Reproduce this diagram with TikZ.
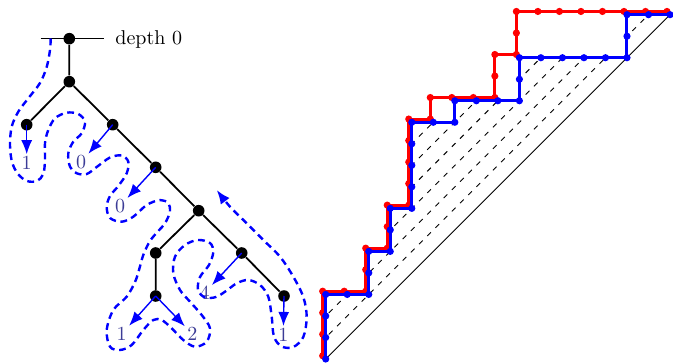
\documentclass[tikz,border=0pt]{standalone}
\usetikzlibrary{arrows.meta}
\definecolor{labcol}{RGB}{60,60,150}
\begin{document}
\begin{tikzpicture}[x=0.5pt,y=-0.5pt,
  treenode/.style={circle,fill=black,inner sep=0pt,minimum size=5.8pt},
  treeedge/.style={line width=0.9pt},
  leaflab/.style={text=labcol,inner sep=1pt},
  leafarrow/.style={blue,line width=0.7pt,-{Latex[length=7pt,width=5.5pt]}},
  contour/.style={blue,line width=1.2pt,dash pattern=on 3.4pt off 2.3pt,-{Latex[length=7pt,width=5.5pt]}},
  redpath/.style={red,line width=1.5pt,line join=round},
  bluepath/.style={blue,line width=1.5pt,line join=round},
  latdot/.style={radius=1.8pt}]
\useasboundingbox (0,0) rectangle (673,363);
% ---------------- tree ----------------
\coordinate (dl) at (40.7,38.7);
\coordinate (dr) at (104.3,38.7);
\draw[line width=0.5pt] (dl) -- (dr);
\node[anchor=base west,inner sep=0pt] (dtext) at (115,45) {depth 0};
\node[treenode] (r) at (69.3,38.7) {};
\node[treenode] (a) at (69.3,81.7) {};
\node[treenode] (l1) at (26.7,124.7) {};
\node[treenode] (b) at (112.7,124.7) {};
\node[treenode] (c) at (155.7,167.3) {};
\node[treenode] (d) at (198.7,210.7) {};
\node[treenode] (e) at (155.7,253) {};
\node[treenode] (f) at (241.7,253) {};
\node[treenode] (g) at (155.7,296) {};
\node[treenode] (h) at (284,296) {};
\draw[treeedge] (r) -- (a) (a) -- (l1) (a) -- (b) (b) -- (c) (c) -- (d)
  (d) -- (e) (d) -- (f) (e) -- (g) (f) -- (h);
\node[leaflab] (t1) at (26.7,163.3) {1};
\node[leaflab] (t2) at (81,162.5) {0};
\node[leaflab] (t3) at (120,206) {0};
\node[leaflab] (t4) at (121.7,334) {1};
\node[leaflab] (t5) at (192.3,334) {2};
\node[leaflab] (t6) at (204.5,293) {4};
\node[leaflab] (t7) at (283.3,335) {1};
\draw[leafarrow] (l1.center) -- (t1);
\draw[leafarrow] (b.center) -- (t2);
\draw[leafarrow] (c.center) -- (t3);
\draw[leafarrow] (g.center) -- (t4);
\draw[leafarrow] (g.center) -- (t5);
\draw[leafarrow] (f.center) -- (t6);
\draw[leafarrow] (h.center) -- (t7);
\draw[contour] plot[smooth,tension=0.55] coordinates {
 (50.7,38.5) (50,50) (46.7,67) (40,83) (28.3,98.3) (18.3,111.7) (11.7,126.7)
 (10,145) (12,162) (18,174) (27,181) (37,181) (43.3,174) (45,160) (45,143)
 (48.3,130) (55,118.3) (66.7,112.7) (78.3,114) (85,121.7) (81.7,133.3)
 (73.3,141.7) (68.3,153.3) (70,166.7) (76.7,173.3) (86.7,174) (96.7,167)
 (110,157.5) (121.7,155.5) (128.3,161.7) (126.7,173.3) (118.3,186) (110,196)
 (106.7,207) (110,218) (121.7,221.7) (133.3,216.7) (146.7,205) (160,200)
 (168.3,203.3) (170,211.7) (165,223.3) (158.3,231) (150,241) (143.3,255)
 (139,270) (135,282) (126.7,296.7) (113.3,310) (106.7,330) (110,346.7)
 (120,350) (131.7,345) (143.3,330) (153.3,320) (161.7,320) (171.7,328.3)
 (183.3,340) (195,346.7) (206.7,341.7) (210,328.3) (201.7,315) (190,301.7)
 (180,290) (173.3,273.3) (175,256.7) (185,245) (198,240) (210,243)
 (213.3,252) (209,265) (200,277) (198,290) (205,297.5) (216,297) (226,291)
 (236.7,283.3) (248.3,280) (260,285) (268.3,296.7) (271.7,316.7) (274,336.7)
 (281.7,346.5) (293.3,347) (303.3,337) (306.7,317) (303.3,297) (293.3,276.7)
 (280,256.7) (263.3,240) (246.7,223.3) (230,206.7) (216.7,190)};
% ---------------- lattice paths ----------------
\begin{scope}[shift={(325.7,359)},x=10.76pt,y=10.76pt]
  \def\bluepts{(0,0),(0,1),(0,2),(0,3),(1,3),(2,3),(2,4),(2,5),(3,5),(3,6),(3,7),(4,7),(4,8),(4,9),(4,10),(4,11),(5,11),(6,11),(6,12),(7,12),(8,12),(9,12),(9,13),(9,14),(10,14),(11,14),(12,14),(13,14),(14,14),(14,15),(14,16),(15,16),(16,16)}
  \def\redpts{(0,0),(0,1),(0,2),(0,3),(1,3),(2,3),(2,4),(2,5),(3,5),(3,6),(3,7),(4,7),(4,8),(4,9),(4,10),(4,11),(5,11),(5,12),(6,12),(7,12),(8,12),(8,13),(8,14),(9,14),(9,15),(9,16),(10,16),(11,16),(12,16),(13,16),(14,16),(15,16),(16,16)}
  \begin{scope}
    \clip (0,0) |- (2,3) |- (3,5) |- (4,7) |- (6,11) |- (9,12) |- (14,14) |- (16,16) -- cycle;
    \foreach \k in {1,...,15}
      \draw[line width=0.45pt,dash pattern=on 2.6pt off 3.2pt] (-1,\k-1) -- (17,\k+17);
  \end{scope}
  \draw[line width=0.45pt] (0,0) -- (16,16);
  \begin{scope}[shift={(-0.14,0.15)}]
    \draw[redpath] (0,0) |- (2,3) |- (3,5) |- (4,7) |- (5,11) |- (8,12) |- (9,14) |- (16,16);
    \foreach \p in \redpts \fill[red] \p circle[latdot];
  \end{scope}
  \draw[bluepath] (0,0) |- (2,3) |- (3,5) |- (4,7) |- (6,11) |- (9,12) |- (14,14) |- (16,16);
  \foreach \p in \bluepts \fill[blue] \p circle[latdot];
\end{scope}
\end{tikzpicture}
\end{document}
